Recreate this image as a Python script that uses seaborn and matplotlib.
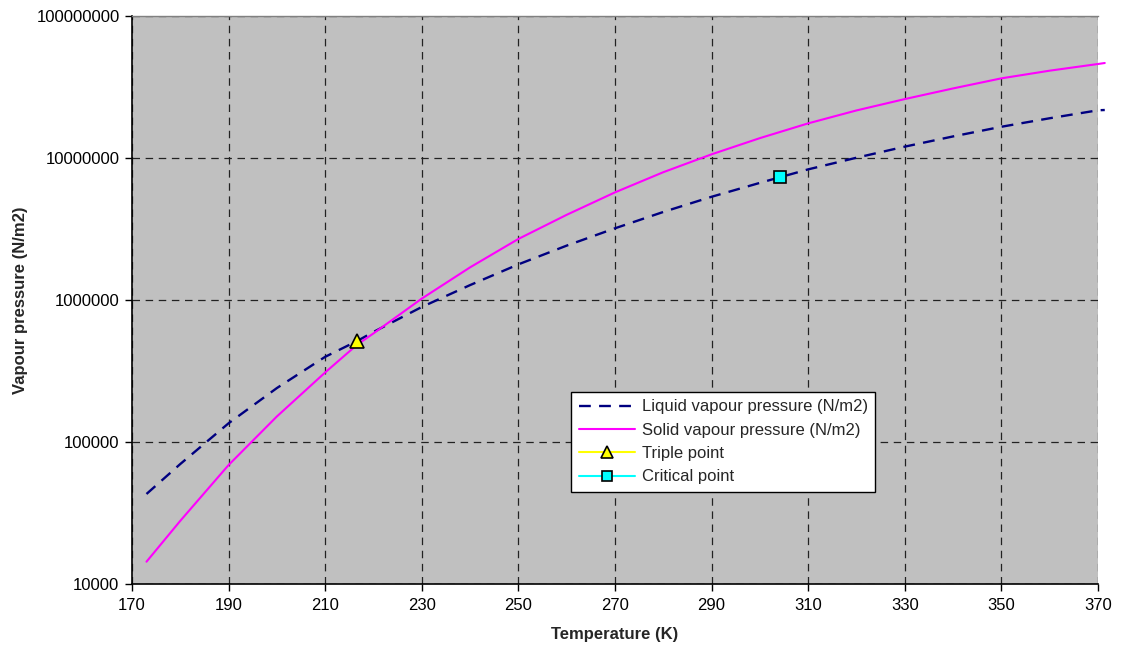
import numpy as np
import pandas as pd
import matplotlib
matplotlib.use("Agg")
import matplotlib.pyplot as plt
import matplotlib.ticker as mticker
import seaborn as sns

# Temperatures (K) and log10 of vapour pressure (N/m2)
liquid_T = [173, 180, 190, 200, 210, 216.6, 220, 230, 240, 250, 260, 270, 280,
            290, 300, 310, 320, 330, 340, 350, 360, 370, 371.4]
liquid_logP = [4.634, 4.845, 5.132, 5.38, 5.60, 5.711, 5.775, 5.951, 6.105, 6.251,
               6.383, 6.505, 6.62, 6.727, 6.825, 6.920, 7.002, 7.080, 7.152,
               7.220, 7.280, 7.336, 7.338]

solid_T = [173, 180, 190, 200, 210, 216.6, 220, 230, 240, 250, 260, 270, 280,
           290, 300, 310, 320, 330, 340, 350, 360, 370, 371.4]
solid_logP = [4.157, 4.445, 4.838, 5.18, 5.49, 5.685, 5.765, 6.01, 6.23, 6.430,
              6.60, 6.758, 6.90, 7.026, 7.14, 7.244, 7.335, 7.415, 7.49, 7.561,
              7.615, 7.662, 7.669]

triple_T = [216.6]
triple_P = [518000]
critical_T = [304.2]
critical_P = [7380000]

x_ticks = [170, 190, 210, 230, 250, 270, 290, 310, 330, 350, 370]
y_ticks = [10000, 100000, 1000000, 10000000, 100000000]

sns.set_theme(style="white")
plt.rcParams['font.family'] = ['Liberation Sans', 'DejaVu Sans']

FS = 12

fig = plt.figure(figsize=(11.21, 6.51), dpi=100)
ax = fig.add_axes([132 / 1121, 1 - 584 / 651, (1098 - 132) / 1121, (584 - 16) / 651])
ax.set_facecolor("#C0C0C0")

liq = pd.DataFrame({"T": liquid_T, "P": 10 ** np.array(liquid_logP)})
sol = pd.DataFrame({"T": solid_T, "P": 10 ** np.array(solid_logP)})

sns.lineplot(data=liq, x="T", y="P", ax=ax, color="#000080", lw=1.7,
             dashes=False, label="Liquid vapour pressure (N/m2)")
ax.lines[-1].set_dashes((5, 3.5))
sns.lineplot(data=sol, x="T", y="P", ax=ax, color="#FF00FF", lw=1.5,
             label="Solid vapour pressure (N/m2)")
for ln in ax.lines:
    ln.set_clip_on(False)
sns.lineplot(x=triple_T, y=triple_P, ax=ax, color="#FFFF00", lw=1.5, marker="^",
             markersize=10, markeredgecolor="black", markeredgewidth=1.2,
             label="Triple point")
sns.lineplot(x=critical_T, y=critical_P, ax=ax, color="#00FFFF", lw=1.5, marker="s",
             markersize=8.5, markeredgecolor="black", markeredgewidth=1.2,
             label="Critical point")

ax.set_yscale("log")
ax.set_xlim(170, 370)
ax.set_ylim(10000, 100000000)
ax.xaxis.set_major_locator(mticker.FixedLocator(x_ticks))
ax.yaxis.set_major_locator(mticker.FixedLocator(y_ticks))
ax.yaxis.set_minor_locator(mticker.NullLocator())
ax.xaxis.set_major_formatter(mticker.FuncFormatter(lambda v, p: f"{int(round(v))}"))
ax.yaxis.set_major_formatter(mticker.FuncFormatter(lambda v, p: f"{int(round(v))}"))

ax.grid(True, which="major", color="#222222", linestyle=(0, (6, 4.5)), lw=0.9)
ax.set_axisbelow(True)

for s in ["left", "bottom"]:
    ax.spines[s].set_color("black")
    ax.spines[s].set_linewidth(1.2)
ax.spines["top"].set_color("#808080")
ax.spines["top"].set_linewidth(1.0)
ax.spines["right"].set_visible(False)

ax.tick_params(axis="both", which="major", direction="out", length=5, width=1,
               color="black", labelsize=FS, labelcolor="black", bottom=True, left=True)
ax.tick_params(axis="x", pad=5)
ax.tick_params(axis="y", pad=4)

ax.set_xlabel("Temperature (K)", fontsize=FS, fontweight="bold", labelpad=10)
ax.set_ylabel("Vapour pressure (N/m2)", fontsize=FS, fontweight="bold", labelpad=6)

leg = ax.legend(loc="lower left", bbox_to_anchor=((571 - 132) / 966, (584 - 492) / 568),
                frameon=True, fancybox=False, framealpha=1, edgecolor="black",
                facecolor="white", fontsize=FS, handlelength=3.4, handletextpad=0.4,
                borderpad=0.45, labelspacing=0.5, borderaxespad=0, markerscale=0.9)
leg.get_frame().set_linewidth(1.0)

fig.savefig("out.png", dpi=100)
